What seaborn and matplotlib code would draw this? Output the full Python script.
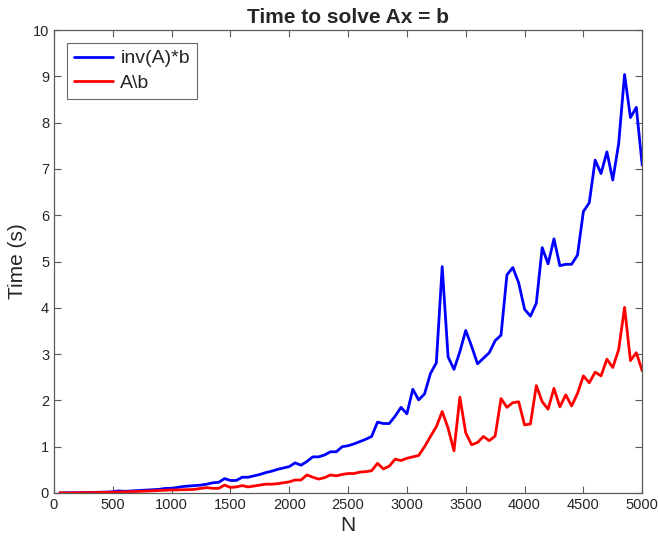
import matplotlib
matplotlib.use("Agg")
import matplotlib.pyplot as plt
import numpy as np
import pandas as pd
import seaborn as sns

# matrix sizes
n_values = list(range(50, 5001, 50))

# time for inv(A)*b
inv_times = [
    0.002, 0.003, 0.004, 0.006, 0.008, 0.010, 0.013, 0.016, 0.020, 0.025,
    0.045, 0.035, 0.042, 0.050, 0.057, 0.065, 0.072, 0.080, 0.100,
    0.10, 0.12, 0.14, 0.15, 0.16, 0.17, 0.19, 0.22, 0.23, 0.31,
    0.27, 0.27, 0.34, 0.34, 0.37, 0.40, 0.44, 0.47, 0.51, 0.54,
    0.57, 0.65, 0.60, 0.68, 0.78, 0.78, 0.82, 0.89, 0.89, 1.00,
    1.02, 1.06, 1.11, 1.16, 1.22, 1.53, 1.50, 1.50, 1.66, 1.85,
    1.71, 2.24, 2.01, 2.14, 2.58, 2.81, 4.89, 2.94, 2.67, 3.05,
    3.51, 3.17, 2.79, 2.91, 3.03, 3.29, 3.41, 4.71, 4.87, 4.54,
    3.97, 3.82, 4.10, 5.30, 4.95, 5.49, 4.91, 4.94, 4.94, 5.14,
    6.08, 6.27, 7.19, 6.90, 7.37, 6.76, 7.55, 9.04, 8.11, 8.33,
    7.08,
]

# time for A\b
div_times = [
    0.001, 0.002, 0.003, 0.004, 0.005, 0.007, 0.009, 0.011, 0.014, 0.017,
    0.020, 0.024, 0.028, 0.032, 0.037, 0.042, 0.048, 0.054, 0.060,
    0.065, 0.066, 0.070, 0.072, 0.080, 0.100, 0.115, 0.100, 0.100, 0.17,
    0.12, 0.13, 0.16, 0.13, 0.15, 0.17, 0.19, 0.19, 0.20, 0.22,
    0.24, 0.28, 0.28, 0.39, 0.34, 0.30, 0.33, 0.39, 0.37, 0.40,
    0.42, 0.42, 0.45, 0.46, 0.48, 0.64, 0.52, 0.58, 0.73, 0.70,
    0.75, 0.78, 0.81, 1.00, 1.22, 1.43, 1.76, 1.40, 0.91, 2.07,
    1.30, 1.04, 1.09, 1.22, 1.13, 1.23, 2.04, 1.85, 1.95, 1.97,
    1.47, 1.49, 2.32, 1.97, 1.81, 2.26, 1.86, 2.12, 1.88, 2.15,
    2.53, 2.38, 2.61, 2.53, 2.89, 2.71, 3.10, 4.01, 2.86, 3.03,
    2.64,
]

series_names = ["inv(A)*b", "A\\b"]
series_colors = ["#0000ff", "#ff0000"]

data = pd.DataFrame({
    "N": n_values * 2,
    "Time": inv_times + div_times,
    "method": [series_names[0]] * len(n_values) + [series_names[1]] * len(n_values),
})

sns.set_style("white")
plt.rcParams["font.family"] = ["Liberation Sans", "DejaVu Sans"]

fig = plt.figure(figsize=(6.58, 5.37), dpi=100)
ax = fig.add_axes([0.082, 0.082, 0.894, 0.862])

sns.lineplot(
    data=data,
    x="N",
    y="Time",
    hue="method",
    palette=dict(zip(series_names, series_colors)),
    linewidth=2,
    ax=ax,
)

ax.set_xlim(0, 5000)
ax.set_ylim(0, 10)
ax.set_xticks(np.arange(0, 5001, 500))
ax.set_yticks(np.arange(0, 11, 1))

axis_color = "#5a5a5a"
for spine in ax.spines.values():
    spine.set_visible(True)
    spine.set_color(axis_color)
    spine.set_linewidth(0.9)
ax.tick_params(
    direction="in", length=5, width=0.8, color=axis_color,
    labelcolor="#262626", labelsize=10.5,
    top=True, right=True, bottom=True, left=True,
)

ax.set_xlabel("N", fontsize=15, color="#262626", labelpad=3)
ax.set_ylabel("Time (s)", fontsize=15, color="#262626", labelpad=4)
ax.set_title("Time to solve Ax = b", fontsize=15, fontweight="bold", pad=5)

leg = ax.legend(
    loc="upper left",
    bbox_to_anchor=(0.022, 0.972),
    fontsize=14,
    frameon=True,
    fancybox=False,
    edgecolor="#444444",
    handlelength=2.0,
    borderpad=0.35,
    labelspacing=0.35,
    handletextpad=0.4,
    borderaxespad=0,
)
leg.get_frame().set_linewidth(0.8)

plt.savefig("out.png", dpi=100)
